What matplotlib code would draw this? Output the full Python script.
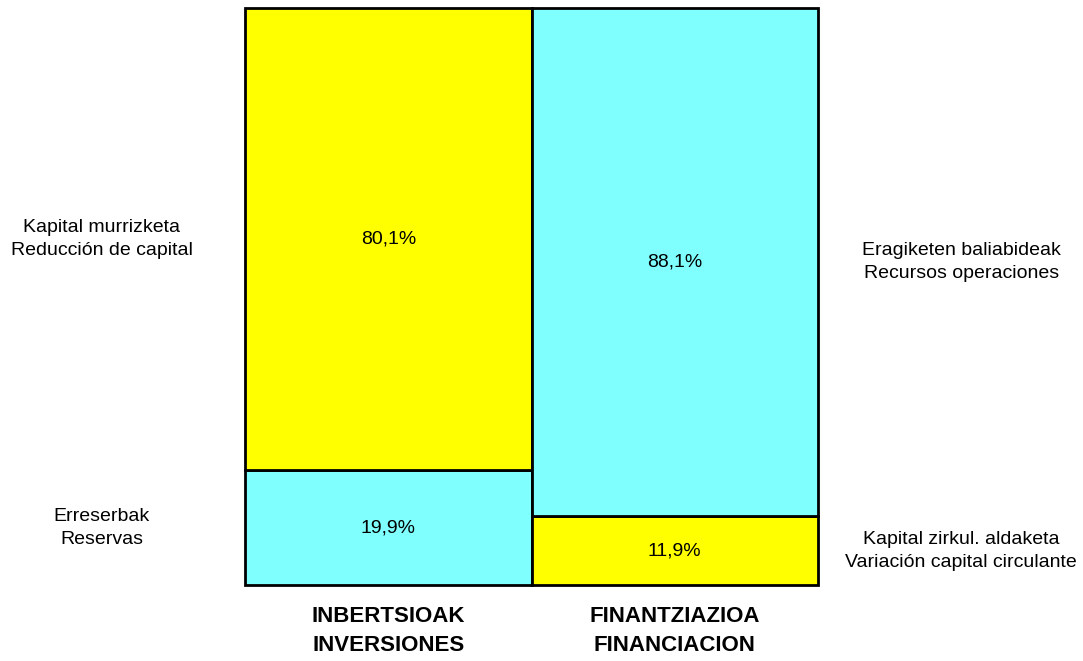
import matplotlib.pyplot as plt

plt.rcParams['font.family'] = ['Liberation Sans', 'DejaVu Sans']

categories = ['INBERTSIOAK\nINVERSIONES', 'FINANTZIAZIOA\nFINANCIACION']
bottom_vals = [19.9, 11.9]
top_vals = [80.1, 88.1]
bottom_labels = ['Erreserbak\nReservas', 'Kapital zirkul. aldaketa\nVariación capital circulante']
top_labels = ['Kapital murrizketa\nReducción de capital', 'Eragiketen baliabideak\nRecursos operaciones']
bottom_colors = ['#80FFFF', '#FFFF00']
top_colors = ['#FFFF00', '#80FFFF']

fig = plt.figure(figsize=(10.83, 6.61), dpi=100)
ax = fig.add_axes([245 / 1083, 76 / 661, 573 / 1083, 577 / 661])

x = [0, 1]
b1 = ax.bar(x, bottom_vals, width=1, color=bottom_colors, edgecolor='black', linewidth=2)
b2 = ax.bar(x, top_vals, width=1, bottom=bottom_vals, color=top_colors, edgecolor='black', linewidth=2)
for p in list(b1) + list(b2):
    p.set_clip_on(False)
ax.set_xlim(-0.5, 1.5)
ax.set_ylim(0, 100)
ax.axis('off')

for i in x:
    b, t = bottom_vals[i], top_vals[i]
    ax.text(i, b / 2, f'{b:.1f}%'.replace('.', ','), ha='center', va='center', fontsize=14)
    ax.text(i, b + t / 2, f'{t:.1f}%'.replace('.', ','), ha='center', va='center', fontsize=14)
    ax.text(i, -3.6, categories[i], ha='center', va='top', fontsize=16, fontweight='bold',
            linespacing=1.5)

# side labels
side = dict(ha='center', va='center', fontsize=14, linespacing=1.45)
ax.text(-1.0, bottom_vals[0] / 2, bottom_labels[0], **side)
ax.text(-1.0, bottom_vals[0] + top_vals[0] / 2, top_labels[0], **side)
ax.text(2.0, bottom_vals[1] / 2, bottom_labels[1], **side)
ax.text(2.0, bottom_vals[1] + top_vals[1] / 2, top_labels[1], **side)

fig.savefig('out.png', dpi=100)
